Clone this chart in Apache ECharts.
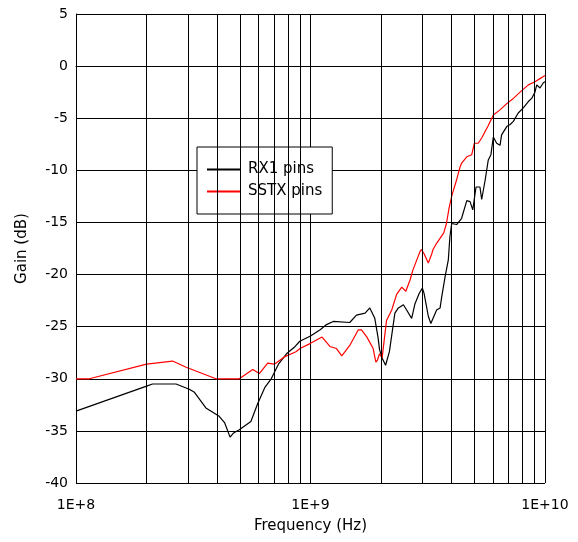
<!DOCTYPE html>
<html>
<head>
<meta charset="utf-8">
<script src="https://cdn.jsdelivr.net/npm/echarts@6/dist/echarts.min.js"></script>
<style>
html, body { margin: 0; padding: 0; background: #fff; }
#chart { width: 578px; height: 542px; }
</style>
</head>
<body>
<div id="chart"></div>
<script>
// RX1 pins (black)
var rxFreq = [1e8, 2e8, 2.12e8, 2.67e8, 3.04e8, 3.2e8, 3.58e8, 4.08e8, 4.3e8, 4.54e8, 4.7e8, 4.97e8,
    5.57e8, 5.95e8, 6.4e8, 6.8e8, 7.3e8, 7.9e8, 8.6e8, 9e8, 1e9, 1.1e9, 1.17e9, 1.25e9, 1.47e9,
    1.57e9, 1.71e9, 1.79e9, 1.88e9, 1.94e9, 1.97e9, 2.02e9, 2.09e9, 2.17e9, 2.29e9, 2.37e9, 2.49e9,
    2.57e9, 2.7e9, 2.79e9, 2.91e9, 3.0e9, 3.05e9, 3.18e9, 3.26e9, 3.45e9, 3.57e9, 3.63e9, 3.75e9,
    3.87e9, 3.93e9, 4.0e9, 4.2e9, 4.41e9, 4.64e9, 4.79e9, 4.92e9, 5.08e9, 5.28e9, 5.37e9, 5.55e9,
    5.73e9, 5.88e9, 6.02e9, 6.22e9, 6.43e9, 6.53e9, 6.87e9, 7.1e9, 7.33e9, 7.69e9, 8.08e9, 8.49e9,
    8.77e9, 9.06e9, 9.22e9, 9.52e9, 9.84e9, 1e10];
var rxGain = [-33.1, -30.7, -30.5, -30.5, -31.0, -31.3, -32.8, -33.6, -34.2, -35.6, -35.2, -34.9,
    -34.1, -32.4, -30.8, -30.0, -28.6, -27.6, -26.9, -26.4, -25.9, -25.3, -24.8, -24.5, -24.6,
    -23.9, -23.7, -23.2, -24.2, -26.0, -27.2, -28.0, -28.7, -27.4, -23.7, -23.2, -22.9,
    -23.4, -24.2, -22.8, -21.8, -21.3, -21.8, -24.0, -24.7, -23.4, -23.2, -22.1, -20.2,
    -18.6, -16.4, -15.1, -15.2, -14.6, -12.9, -13.0, -13.8, -11.6, -11.6, -12.8, -11.0,
    -9.0, -8.5, -6.8, -7.4, -7.6, -6.6, -5.8, -5.6, -5.3, -4.5, -4.0, -3.4,
    -3.1, -2.5, -1.8, -2.1, -1.6, -1.5];

// SSTX pins (red)
var ssFreq = [1e8, 1.14e8, 2e8, 2.58e8, 2.95e8, 3.95e8, 4.2e8, 4.97e8, 5.67e8, 6.05e8, 6.57e8,
    7.01e8, 7.73e8, 8.67e8, 9.02e8, 1e9, 1.12e9, 1.21e9, 1.29e9, 1.36e9, 1.47e9, 1.6e9, 1.65e9,
    1.74e9, 1.85e9, 1.9e9, 1.93e9, 1.97e9, 2.02e9, 2.11e9, 2.22e9, 2.33e9, 2.45e9, 2.55e9, 2.66e9,
    2.73e9, 2.93e9, 2.97e9, 3.05e9, 3.18e9, 3.29e9, 3.33e9, 3.45e9, 3.7e9, 3.8e9, 3.9e9, 4.0e9,
    4.07e9, 4.2e9, 4.34e9, 4.41e9, 4.64e9, 4.87e9, 5.0e9, 5.19e9, 5.37e9, 5.73e9, 6.02e9, 6.43e9,
    6.87e9, 7.33e9, 7.83e9, 8.49e9, 9.06e9, 9.52e9, 9.84e9, 1e10];
var ssGain = [-30.0, -30.0, -28.6, -28.3, -28.9, -30.0, -30.0, -30.0, -29.1, -29.5, -28.5,
    -28.6, -27.9, -27.4, -27.1, -26.6, -26.0, -26.9, -27.1, -27.8, -26.8, -25.3, -25.3,
    -26.0, -27.1, -28.4, -28.2, -27.6, -28.0, -24.4, -23.4, -21.9, -21.2, -21.6, -20.5,
    -19.6, -17.8, -17.6, -18.0, -18.9, -18.0, -17.6, -17.0, -16.0, -15.1, -13.6, -12.5,
    -11.9, -10.9, -9.7, -9.3, -8.7, -8.5, -7.4, -7.4, -6.9, -5.7, -4.7, -4.2,
    -3.6, -3.1, -2.5, -1.8, -1.5, -1.2, -1.0, -0.9];

// minor log gridlines
var minorFreq = [2e8, 3e8, 4e8, 5e8, 6e8, 7e8, 8e8, 9e8, 2e9, 3e9, 4e9, 5e9, 6e9, 7e9, 8e9, 9e9];

var font = 'DejaVu Sans';

function pairs(xs, ys) {
    return xs.map(function (x, i) { return [x, ys[i]]; });
}

var myChart = echarts.init(document.getElementById('chart'));
var option = {
    animation: false,
    backgroundColor: '#fff',
    grid: { left: 76, right: 33, top: 14, bottom: 59 },
    legend: {
        data: ['RX1 pins', 'SSTX pins'],
        orient: 'vertical',
        left: 197,
        top: 147,
        itemWidth: 33,
        itemHeight: 14,
        itemGap: 7,
        padding: [15, 10, 15, 9],
        borderColor: '#000',
        borderWidth: 1,
        borderRadius: 0,
        backgroundColor: '#fff',
        itemStyle: { opacity: 0 },
        lineStyle: { width: 2 },
        textStyle: { fontFamily: font, fontSize: 15, color: '#000', padding: [0, 0, 0, 3] }
    },
    xAxis: {
        type: 'log',
        logBase: 10,
        min: 1e8,
        max: 1e10,
        name: 'Frequency (Hz)',
        nameLocation: 'middle',
        nameGap: 36,
        nameTextStyle: { fontFamily: font, fontSize: 15, color: '#000' },
        axisLine: { lineStyle: { color: '#000', width: 1 } },
        axisTick: { show: false },
        axisLabel: {
            fontFamily: font, fontSize: 14, color: '#000', margin: 15,
            formatter: function (v) { return '1E+' + Math.round(Math.log10(v)); }
        },
        splitLine: { show: true, lineStyle: { color: '#000', width: 1 } }
    },
    yAxis: {
        type: 'value',
        min: -40,
        max: 5,
        interval: 5,
        name: 'Gain (dB)',
        nameLocation: 'middle',
        nameGap: 46,
        nameTextStyle: { fontFamily: font, fontSize: 15, color: '#000' },
        axisLine: { show: true, lineStyle: { color: '#000', width: 1 } },
        axisTick: { show: false },
        axisLabel: { fontFamily: font, fontSize: 14, color: '#000', margin: 8 },
        splitLine: { show: true, lineStyle: { color: '#000', width: 1 } }
    },
    series: [
        {
            name: 'grid',
            type: 'line',
            data: [],
            z: 1,
            silent: true,
            markLine: {
                silent: true,
                symbol: 'none',
                label: { show: false },
                lineStyle: { color: '#000', width: 1, type: 'solid' },
                data: minorFreq.map(function (f) { return { xAxis: f }; })
            }
        },
        {
            name: 'RX1 pins',
            type: 'line',
            z: 3,
            symbol: 'none',
            color: '#000',
            lineStyle: { color: '#000', width: 1.2 },
            data: pairs(rxFreq, rxGain)
        },
        {
            name: 'SSTX pins',
            type: 'line',
            z: 4,
            symbol: 'none',
            color: '#ff0000',
            lineStyle: { color: '#ff0000', width: 1.2 },
            data: pairs(ssFreq, ssGain)
        }
    ]
};
myChart.setOption(option);
</script>
</body>
</html>
